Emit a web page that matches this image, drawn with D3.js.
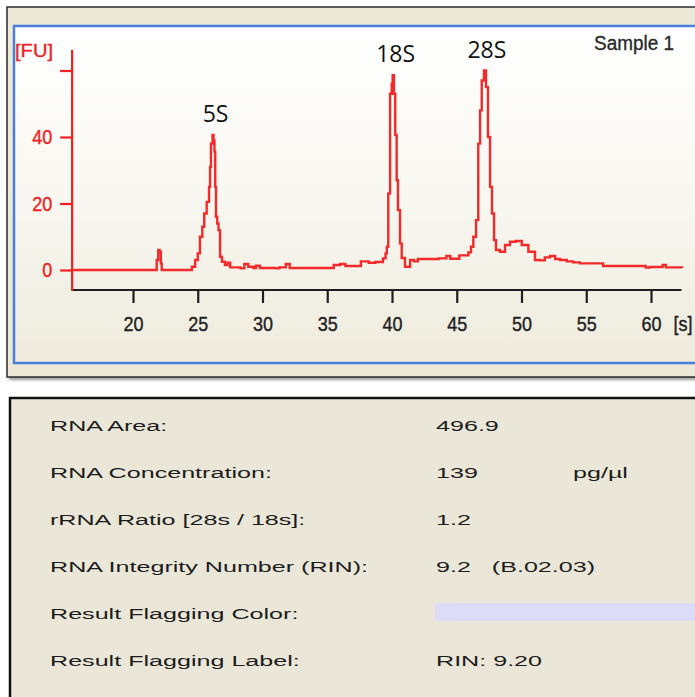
<!DOCTYPE html>
<html>
<head>
<meta charset="utf-8">
<script src="https://cdn.jsdelivr.net/npm/d3@7"></script>
<style>
  html, body { margin: 0; padding: 0; background: #ffffff; }
  svg { display: block; }
</style>
</head>
<body>
<svg id="chart" width="695" height="697"></svg>
<script>
// Electropherogram trace: migration time [s] and fluorescence [FU]
const timeS = [
  15.3, 21.7, 21.83, 21.95, 22.05, 22.15, 22.22, 24.3, 24.55, 24.8, 25.0, 25.17, 25.35, 25.5,
  25.69, 25.87, 25.95, 26.02, 26.14, 26.22, 26.29, 26.35, 26.41, 26.5, 26.6, 26.72, 26.87,
  27.1, 27.3, 27.5, 28.3, 28.6, 28.9, 29.3, 29.5, 29.8, 31.0, 31.3, 31.8, 32.1, 35.0, 35.5,
  36.0, 36.4, 37.1, 37.6, 38.2, 38.7, 39.3, 39.5, 39.6, 39.71, 39.85, 39.98, 40.05, 40.15,
  40.25, 40.36, 40.46, 40.62, 40.75, 41.0, 41.4, 41.7, 42.0, 42.4, 43.6, 44.2, 44.5, 45.2,
  45.9, 46.1, 46.28, 46.49, 46.66, 46.8, 46.93, 47.1, 47.26, 47.41, 47.57, 47.72, 47.88,
  48.03, 48.34, 48.73, 49.11, 49.55, 50.02, 50.53, 51.04, 51.43, 51.8, 52.2, 52.6, 52.97,
  53.5, 53.98, 54.5, 56.06, 56.3, 59.3, 59.6, 59.9, 60.6, 60.9, 61.15, 62.4
];
const fluorFU = [
  0, 0, 3, 6, 5.5, 2, 0, 0, 1, 3, 5, 10, 13, 17,
  20.5, 25, 31, 38, 40.6, 39, 35.6, 25, 16, 14, 12, 4, 2.5,
  1.5, 2.2, 0.8, 0.5, 1.8, 1, 0.6, 1.3, 0.6, 0.5, 0.8, 1.8, 0.6, 0.6, 1.5,
  1.8, 1.2, 1.2, 2.6, 2.2, 2.4, 3.5, 5, 7, 23, 53, 56, 58.6, 53,
  40.6, 27, 18, 8, 3.6, 1, 3, 2.6, 3.3, 3.3, 3.5, 4.2, 3.4, 4.4,
  5.3, 7, 10, 15, 38, 48, 57, 60, 55, 40, 25, 17, 9,
  6, 5.5, 7.5, 8.5, 8.7, 7.5, 5.5, 3, 2.9, 3.8, 4.2, 3.3, 3,
  2.6, 2.3, 2, 2, 1.2, 1.2, 0.7, 0.9, 0.9, 1.5, 0.8, 0.6
];

// Peak annotations
const peakNames = ["5S", "18S", "28S"];
const peakTimes = [26.14, 40.05, 47.1];
const peakFU = [40.6, 58.6, 60];

// Axis ticks
const xTicks = [20, 25, 30, 35, 40, 45, 50, 55, 60];
const yTicks = [0, 20, 40, 60];
const yTickLabels = ["0", "20", "40", ""];

// Result table
const fieldLabels = [
  "RNA Area:",
  "RNA Concentration:",
  "rRNA Ratio [28s / 18s]:",
  "RNA Integrity Number (RIN):",
  "Result Flagging Color:",
  "Result Flagging Label:"
];
const fieldValues = ["496.9", "139", "1.2", "9.2   (B.02.03)", "", "RIN: 9.20"];
const fieldUnits = ["", "pg/\u00b5l", "", "", "", ""];

const svg = d3.select("#chart");

// ---- gradients ----
const defs = svg.append("defs");
const plotGrad = defs.append("linearGradient")
  .attr("id", "plotBg").attr("x1", 0).attr("y1", 0).attr("x2", 0).attr("y2", 1);
plotGrad.append("stop").attr("offset", "0%").attr("stop-color", "#ffffff");
plotGrad.append("stop").attr("offset", "50%").attr("stop-color", "#f8f7f1");
plotGrad.append("stop").attr("offset", "100%").attr("stop-color", "#eeebdd");
const shadow = defs.append("filter").attr("id", "shadow")
  .attr("x", "-5%").attr("y", "-5%").attr("width", "110%").attr("height", "115%");
shadow.append("feGaussianBlur").attr("stdDeviation", 1.5);

// ---- top panel ----
svg.append("rect").attr("x", 9).attr("y", 10).attr("width", 720).attr("height", 370)
  .attr("fill", "#9a9a9a").attr("filter", "url(#shadow)");
svg.append("rect").attr("x", 7).attr("y", 7).attr("width", 720).attr("height", 370)
  .attr("fill", "#ece9d8").attr("stroke", "#2a2a2a").attr("stroke-width", 1.5);
svg.append("rect").attr("x", 14).attr("y", 26).attr("width", 720).attr("height", 337)
  .attr("fill", "url(#plotBg)").attr("stroke", "#4a7edb").attr("stroke-width", 2.5);

// ---- scales ----
const x = d3.scaleLinear().domain([20, 60]).range([133, 651]);
const y = d3.scaleLinear().domain([0, 60]).range([270, 70.5]);
const xMin = 15.3, xMax = 62.35, yMax = 66.2;
const axisY = 290;

const tickFont = "'Liberation Sans Narrow', 'Liberation Sans', Arial, sans-serif";

// x axis
const gx = svg.append("g").attr("transform", `translate(0,${axisY})`);
gx.call(d3.axisBottom(x).tickValues(xTicks).tickSize(13).tickPadding(13).tickSizeOuter(0));
gx.select(".domain").remove();
gx.append("line").attr("x1", x(xMin)).attr("x2", x(xMax)).attr("y1", 0).attr("y2", 0)
  .attr("stroke", "#1e1e1e").attr("stroke-width", 2.2);
gx.selectAll(".tick line").attr("stroke", "#1e1e1e").attr("stroke-width", 2.2);
gx.selectAll(".tick text")
  .attr("fill", "#1e1e1e").attr("stroke", "#1e1e1e").attr("stroke-width", 0.4)
  .attr("font-family", tickFont).attr("font-size", 21)
  .attr("textLength", 20).attr("lengthAdjust", "spacingAndGlyphs");
svg.append("text").attr("x", 683).attr("y", 331).attr("text-anchor", "middle")
  .attr("font-family", tickFont).attr("font-size", 21).attr("fill", "#1e1e1e")
  .attr("stroke", "#1e1e1e").attr("stroke-width", 0.4)
  .attr("textLength", 19).attr("lengthAdjust", "spacingAndGlyphs").text("[s]");

// y axis
const axisX = x(xMin);
const gy = svg.append("g").attr("transform", `translate(${axisX},0)`);
gy.call(d3.axisLeft(y).tickValues(yTicks).tickFormat((d, i) => yTickLabels[i])
  .tickSize(12).tickPadding(8).tickSizeOuter(0));
gy.select(".domain").remove();
gy.append("line").attr("x1", 0).attr("x2", 0).attr("y1", y(yMax)).attr("y2", axisY + 1)
  .attr("stroke", "#f01e1e").attr("stroke-width", 2.2);
gy.selectAll(".tick line").attr("stroke", "#f01e1e").attr("stroke-width", 2.2);
gy.selectAll(".tick text")
  .attr("fill", "#f01e1e").attr("stroke", "#f01e1e").attr("stroke-width", 0.4)
  .attr("font-family", tickFont).attr("font-size", 21)
  .each(function(d, i) {
    const t = d3.select(this);
    const label = yTickLabels[i];
    if (label.length > 0) t.attr("textLength", label.length * 10).attr("lengthAdjust", "spacingAndGlyphs");
  });
svg.append("text").attr("x", 15).attr("y", 57)
  .attr("font-family", "'Liberation Sans', Arial, sans-serif").attr("font-size", 19)
  .attr("fill", "#e8262b").attr("stroke", "#e8262b").attr("stroke-width", 0.4)
  .attr("textLength", 38).attr("lengthAdjust", "spacingAndGlyphs")
  .text("[FU]");

// sample name
svg.append("text").attr("x", 594).attr("y", 50)
  .attr("font-family", tickFont).attr("font-size", 20).attr("fill", "#2a2a2a")
  .attr("stroke", "#2a2a2a").attr("stroke-width", 0.35)
  .attr("textLength", 80).attr("lengthAdjust", "spacingAndGlyphs")
  .text("Sample 1");

// ---- trace ----
const trace = timeS.map((t, i) => [t, fluorFU[i]]);
svg.append("path")
  .datum(trace)
  .attr("fill", "none")
  .attr("stroke", "#f42a2a")
  .attr("stroke-width", 2.4)
  .attr("stroke-linejoin", "miter")
  .attr("d", d3.line().x(d => x(d[0])).y(d => y(d[1])).curve(d3.curveStepAfter));

// peak labels
svg.append("g").selectAll("text").data(peakNames).join("text")
  .attr("x", (d, i) => x(peakTimes[i]) + 3)
  .attr("y", (d, i) => y(peakFU[i]) - 13)
  .attr("text-anchor", "middle")
  .attr("font-family", "'Open Sans', 'Noto Sans', sans-serif")
  .attr("font-size", 23)
  .attr("fill", "#111111")
  .text(d => d);

// ---- result table ----
svg.append("rect").attr("x", 10).attr("y", 398).attr("width", 720).attr("height", 320)
  .attr("fill", "#ebe7d8").attr("stroke", "#111111").attr("stroke-width", 2.5);

const rowY = d3.scaleLinear().domain([0, 5]).range([430.5, 665.5]);
const tableFont = "'Liberation Sans', Arial, sans-serif";
const stretch = 1.62;

function tableText(xPos, i, str) {
  svg.append("text")
    .attr("transform", `translate(${xPos},${rowY(i)}) scale(${stretch},1)`)
    .attr("font-family", tableFont).attr("font-size", 15.5)
    .attr("fill", "#1c1c1c")
    .attr("xml:space", "preserve")
    .style("white-space", "pre")
    .text(str);
}
fieldLabels.forEach((s, i) => tableText(50, i, s));
fieldValues.forEach((s, i) => { if (s) tableText(436, i, s); });
fieldUnits.forEach((s, i) => { if (s) tableText(573, i, s); });

// flagging colour swatch
svg.append("rect").attr("x", 435).attr("y", 603).attr("width", 270).attr("height", 18)
  .attr("fill", "#dcdcf8");
</script>
</body>
</html>
